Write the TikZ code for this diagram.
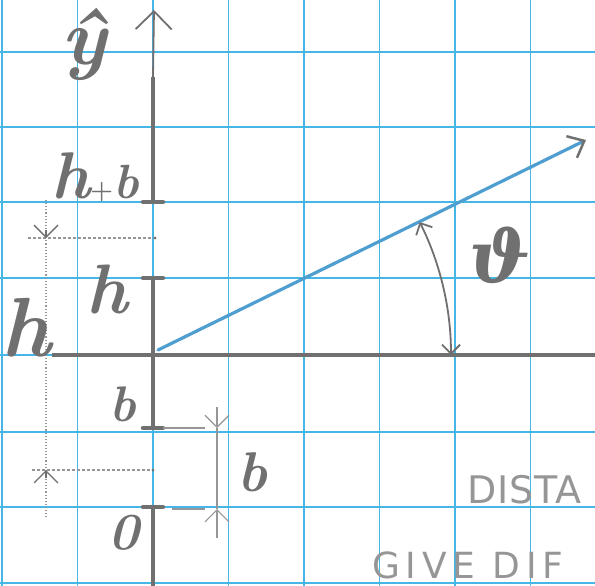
\documentclass[tikz,border=0pt]{standalone}
\usepackage{fontspec}
\usepackage{graphicx}
\usetikzlibrary{arrows.meta}
\newfontfamily\handA[LetterSpace=2]{DejaVu Sans}
\newfontfamily\handB[LetterSpace=16]{DejaVu Sans}
\newfontfamily\greekfont{DejaVu Serif}
\definecolor{gridblue}{RGB}{70,182,230}
\definecolor{pencil}{RGB}{112,112,112}
\definecolor{pencillight}{RGB}{150,150,150}
\definecolor{vecblue}{RGB}{78,158,208}
\tikzset{
  gridline/.style={gridblue, line width=1.6pt},
  axisline/.style={pencil, line width=4pt},
  thinaxis/.style={pencil, line width=1.8pt},
  tickmark/.style={pencil, line width=4.5pt, line cap=round},
  extline/.style={pencillight, line width=1.2pt},
  dimline/.style={pencillight, line width=1.1pt, dotted},
  barb/.style={-{Straight Barb[length=#1, width=2*#1]}},
  lbl/.style={text=pencil, inner sep=0pt},
  vector/.style={vecblue, line width=3.2pt, line cap=round}
}
\begin{document}
\begin{tikzpicture}[x=1pt,y=-1pt]
\useasboundingbox (0,0) rectangle (595,586);
\clip (0,0) rectangle (595,586);
\fill[white] (0,0) rectangle (595,586);
% grid
\foreach \gx in {2,77.5,153,228.5,304,379.5,455,530.5}
  \draw[gridline] (\gx,0) -- (\gx,586);
\foreach \gy in {52,127,202,278,355,432,507,583}
  \draw[gridline] (0,\gy) -- (595,\gy);

% key points
\coordinate (top) at (154,10);
\coordinate (A77) at (153,77);
\coordinate (Ahb) at (153,202);
\coordinate (Ah) at (153,278);
\coordinate (O) at (153,355);
\coordinate (Ab) at (153,428);
\coordinate (A0) at (153,507);
\coordinate (Abot) at (153,590);
\coordinate (Hleft) at (52,355);
\coordinate (Hright) at (600,355);

% vertical axis
\draw[thinaxis, barb=18pt] (A77) -- (top);
\draw[axisline] (A77) -- (Ahb);
\draw[axisline] (Ah) -- (Ab);
\draw[axisline] (A0) -- (Abot);
\draw[tickmark] ([xshift=-10pt]Ahb) -- ([xshift=10pt]Ahb);
\draw[tickmark] ([xshift=-10pt]Ah) -- ([xshift=10pt]Ah);
\draw[tickmark] ([xshift=-10pt]Ab) -- ([xshift=10pt]Ab);
\draw[tickmark] ([xshift=-10pt]A0) -- ([xshift=10pt]A0);

% horizontal axis
\draw[pencil, line width=3.5pt] (Hleft) -- (Hright);

% b dimension
\coordinate (bx1) at (205,428);
\coordinate (bx0a) at (172,509);
\coordinate (bx0) at (205,509);
\coordinate (bdt) at (217,407);
\coordinate (bd1) at (217,428);
\coordinate (bd0) at (217,509);
\coordinate (bdb) at (217,538);
\draw[extline] ([xshift=10pt]Ab) -- (bx1);
\draw[extline] (bx0a) -- (bx0);
\draw[extline] (bd1) -- (bd0);
\draw[extline, barb=12pt] (bdt) -- (bd1);
\draw[extline, barb=12pt] (bdb) -- (bd0);

% left h dimension
\coordinate (ldt) at (46,200);
\coordinate (ld1) at (46,238);
\coordinate (ld1a) at (46,230);
\coordinate (ld0) at (46,470);
\coordinate (ld0a) at (46,478);
\coordinate (ldb) at (46,517);
\coordinate (le1a) at (28,238);
\coordinate (le1b) at (155,238);
\coordinate (le0a) at (32,470);
\coordinate (le0b) at (153,470);
\draw[dimline] (ldt) -- (ldb);
\draw[extline, densely dashed] (le1a) -- (le1b);
\draw[extline, densely dashed] (le0a) -- (le0b);
\fill[pencil] (le1b) circle (1.5pt);
\fill[pencil] (le0b) circle (1.5pt);
\draw[pencil, line width=1.3pt, barb=12pt] (ld1a) -- (ld1);
\draw[pencil, line width=1.3pt, barb=12pt] (ld0a) -- (ld0);

% vector
\coordinate (vs) at (158,350);
\coordinate (ve) at (586,140);
\draw[vector, -{Straight Barb[color=pencil, length=14pt, width=24pt, line width=2.5pt]}] (vs) -- (ve);

% angle arc
\draw[pencil, line width=1.8pt, {Straight Barb[length=9pt,width=18pt]}-{Straight Barb[length=9pt,width=18pt]}]
  ([xshift=298pt]O) arc[start angle=0, end angle=-26.5, radius=298];

% labels
\node[lbl, font=\fontsize{80}{80}\selectfont\bfseries\itshape] (yhat) at (84,44) {ŷ};
\node[lbl, anchor=base] (hb) at (95,198) {{\fontsize{66}{66}\selectfont\bfseries\itshape h}{\fontsize{26}{26}\selectfont\bfseries +}{\fontsize{48}{48}\selectfont\bfseries\itshape b}};
\node[lbl, font=\fontsize{70}{70}\selectfont\bfseries\itshape] (hmid) at (107,289) {h};
\node[lbl, font=\fontsize{84}{84}\selectfont\bfseries\itshape] (hleft) at (26,328) {h};
\node[lbl, font=\fontsize{50}{50}\selectfont\bfseries\itshape] (bup) at (123,404) {b};
\node[lbl, font=\fontsize{56}{56}\selectfont\bfseries\itshape] (bdim) at (252,472) {b};
\node[lbl, font=\fontsize{52}{52}\selectfont\bfseries\itshape] (zero) at (124,533) {0};
\node[lbl, font=\fontsize{72}{72}\selectfont\greekfont\bfseries\itshape] (theta) at (500,255) {ϑ};
\node[lbl, anchor=base west, text depth=0pt, text=pencillight, font=\fontsize{38}{38}\selectfont\handA] (dist) at (467,503) {DISTA};
\node[lbl, anchor=base west, text depth=0pt, text=pencillight, font=\fontsize{36}{36}\selectfont\handB] (give) at (372,578) {GIVE DIF};
\end{tikzpicture}
\end{document}
